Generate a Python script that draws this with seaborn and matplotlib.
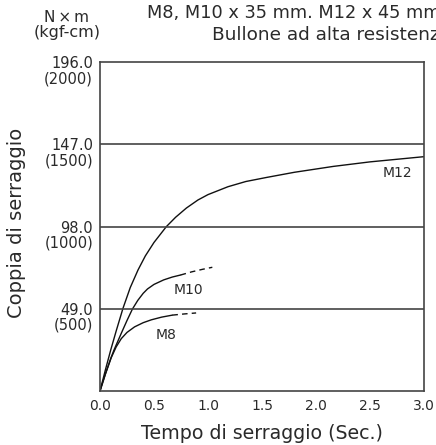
import matplotlib
matplotlib.use("Agg")
import matplotlib.pyplot as plt
import matplotlib.transforms as mtransforms
import seaborn as sns
import pandas as pd

# ---- data ----
m12_x = [0, 0.05, 0.1, 0.15, 0.213, 0.28, 0.352, 0.42, 0.5, 0.614, 0.7, 0.8, 0.907, 1.0,
         1.185, 1.35, 1.54, 1.8, 2.16, 2.5, 3.0]
m12_y = [0, 12.6, 24.6, 35.8, 49.3, 61.6, 72.1, 80.5, 88.5, 97.9, 103.5, 109, 113.8, 117,
         121.7, 124.8, 127.2, 130.3, 133.8, 136.5, 139.6]

m10_x = [0, 0.05, 0.1, 0.13, 0.2, 0.25, 0.3, 0.35, 0.4, 0.44, 0.5, 0.59, 0.67, 0.746]
m10_y = [0, 10, 19.5, 24.5, 34.8, 42, 48.8, 54, 58.2, 60.8, 63.5, 66.2, 67.9, 69.1]
m10_dash_x = [0.746, 0.85, 0.95, 1.04]
m10_dash_y = [69.1, 71, 72.5, 73.7]

m8_x = [0, 0.05, 0.105, 0.15, 0.197, 0.25, 0.32, 0.4, 0.475, 0.57, 0.67]
m8_y = [0, 10.2, 20, 26.3, 31.2, 34.9, 38.2, 40.7, 42.4, 44, 45.2]
m8_dash_x = [0.67, 0.78, 0.89]
m8_dash_y = [45.2, 45.9, 46.5]

y_ticks = [49.0, 98.0, 147.0, 196.0]
y_tick_labels = ["49.0\n(500)", "98.0\n(1000)", "147.0\n(1500)", "196.0\n(2000)"]
x_ticks = [0.0, 0.5, 1.0, 1.5, 2.0, 2.5, 3.0]
x_tick_labels = ["0.0", "0.5", "1.0", "1.5", "2.0", "2.5", "3.0"]

curve_labels = ["M12", "M10", "M8"]
curve_label_x = [2.75, 0.82, 0.61]
curve_label_y = [130, 60.2, 33.4]

title1 = "M8, M10 x 35 mm. M12 x 45 mm"
title2 = "Bullone ad alta resistenza"
unit1 = "N\u2009\u00d7\u2009m"
unit2 = "(kgf-cm)"
xlabel = "Tempo di serraggio (Sec.)"
ylabel = "Coppia di serraggio"

# ---- style ----
sns.set_theme(style="white")
plt.rcParams["font.family"] = ["DejaVu Sans"]
ink = "#111111"
frame = "#444444"
txt = "#2a2a2a"

fig = plt.figure(figsize=(4.36, 4.45), dpi=100)
ax = fig.add_axes([100 / 436, 1 - 391 / 445, 324 / 436, 329 / 445])

def draw(xs, ys, ls):
    df = pd.DataFrame({"x": xs, "y": ys})
    sns.lineplot(data=df, x="x", y="y", ax=ax, color=ink, lw=1.0,
                 linestyle=ls, sort=False, estimator=None)

draw(m12_x, m12_y, "-")
draw(m10_x, m10_y, "-")
draw(m10_dash_x, m10_dash_y, (0, (4, 3)))
draw(m8_x, m8_y, "-")
draw(m8_dash_x, m8_dash_y, (0, (4, 3)))

for yv in y_ticks[:-1]:
    ax.axhline(yv, color=frame, lw=1.2)

ax.set_xlim(0, 3.0)
ax.set_ylim(0, 196.0)
for s in ax.spines.values():
    s.set_color(frame)
    s.set_linewidth(1.2)

ax.set_xticks(x_ticks)
ax.set_xticklabels(x_tick_labels, fontsize=10, color=txt)
ax.set_yticks(y_ticks)
ax.set_yticklabels(y_tick_labels, fontsize=10.5, color=txt, linespacing=1.0,
                   va="center")
ax.tick_params(axis="x", direction="in", length=4, width=1, color=frame, pad=6)
ax.tick_params(axis="y", direction="out", length=3.5, width=1, color=frame, pad=1.5)
off = mtransforms.ScaledTranslation(0, -6.5 / 72, fig.dpi_scale_trans)
for lab in ax.get_yticklabels():
    lab.set_transform(lab.get_transform() + off)

ax.set_xlabel(xlabel, fontsize=13.7, color=txt, labelpad=8)
ax.set_ylabel(ylabel, fontsize=14, color=txt)
ax.yaxis.set_label_coords(-74 / 324, 0.51)

for t, xv, yv in zip(curve_labels, curve_label_x, curve_label_y):
    ax.text(xv, yv, t, fontsize=10, color=txt, ha="center", va="center")

fig.text(67 / 436, 1 - 17 / 445, unit1, fontsize=11, color=txt, ha="center", va="center")
fig.text(67 / 436, 1 - 33 / 445, unit2, fontsize=11.5, color=txt, ha="center", va="center")
fig.text(147 / 436, 1 - 13 / 445, title1, fontsize=12.8, color=txt, ha="left", va="center")
fig.text(212 / 436, 1 - 35 / 445, title2, fontsize=13.3, color=txt, ha="left", va="center")

fig.savefig("out.png", dpi=100)
